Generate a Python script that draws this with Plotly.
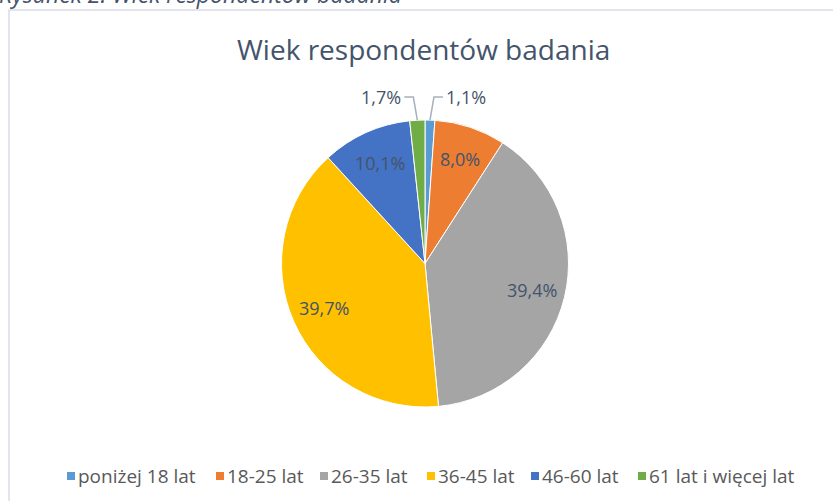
import math
import plotly.graph_objects as go

W, H = 833, 501

categories = ["poniżej 18 lat", "18-25 lat", "26-35 lat", "36-45 lat", "46-60 lat", "61 lat i więcej lat"]
values = [1.1, 8.0, 39.4, 39.7, 10.1, 1.7]
labels = ["1,1%", "8,0%", "39,4%", "39,7%", "10,1%", "1,7%"]
colors = ["#5B9BD5", "#ED7D31", "#A5A5A5", "#FFC000", "#4472C4", "#70AD47"]

title_text = "Wiek respondentów badania"
caption_text = "Rysunek 2. Wiek respondentów badania"

# legend entry left edges (layout, pixels)
legend_x = [67, 216, 320, 427, 531, 638]
legend_y = 476


def px(x):
    return x / W


def py(y):
    return 1 - y / H


# pie geometry (pixels)
cx, cy, R = 425.0, 263.5, 143.5

fig = go.Figure()
fig.add_trace(go.Pie(
    labels=categories,
    values=values,
    sort=False,
    direction="clockwise",
    rotation=0,
    marker=dict(colors=colors, line=dict(color="white", width=1)),
    textinfo="none",
    hoverinfo="label+percent",
    showlegend=False,
    domain=dict(x=[px(cx - R), px(cx + R)], y=[py(cy + R), py(cy - R)]),
))

annotations = []
shapes = []
total = sum(values)
cum = 0.0
label_font = dict(family="Open Sans", size=18, color="#44546A")
for v, lab in zip(values, labels):
    mid = (cum + v / 2) / total * 2 * math.pi
    cum += v
    s, c = math.sin(mid), math.cos(mid)
    if v / total >= 0.03:
        r = 0.77 * R
        annotations.append(dict(
            x=px(cx + r * s), y=py(cy - r * c), xref="paper", yref="paper",
            text=lab, showarrow=False, font=label_font,
            xanchor="center", yanchor="middle"))
    else:
        sign = 1 if s >= 0 else -1
        ex, ey = cx + R * s, cy - R * c
        kx, ky = ex + sign * 4, cy - R * 1.16
        hx = kx + sign * 9
        shapes.append(dict(
            type="path", xref="paper", yref="paper",
            path=f"M{px(ex)},{py(ey)} L{px(kx)},{py(ky)} L{px(hx)},{py(ky)}",
            line=dict(color="#A6B0BE", width=1.5)))
        annotations.append(dict(
            x=px(hx + sign * 1), y=py(ky), xref="paper", yref="paper",
            text=lab, showarrow=False, font=label_font,
            xanchor="left" if sign > 0 else "right", yanchor="middle"))

# legend (swatches + names from the data lists)
for name, col, lx in zip(categories, colors, legend_x):
    shapes.append(dict(
        type="rect", xref="paper", yref="paper",
        x0=px(lx), x1=px(lx + 8), y0=py(legend_y + 4), y1=py(legend_y - 4),
        line=dict(width=0), fillcolor=col))
    annotations.append(dict(
        x=px(lx + 9), y=py(legend_y), xref="paper", yref="paper",
        text=name, showarrow=False,
        font=dict(family="Open Sans", size=19, color="#595959"),
        xanchor="left", yanchor="middle"))

# chart title
annotations.append(dict(
    x=px(423.5), y=py(49), xref="paper", yref="paper",
    text=title_text, showarrow=False,
    font=dict(family="Open Sans", size=28, color="#44546A"),
    xanchor="center", yanchor="middle"))

# document caption (cut at the top of the image)
annotations.append(dict(
    x=px(-3), y=py(12), xref="paper", yref="paper",
    text=caption_text, showarrow=False,
    font=dict(family="Open Sans", size=23, color="#44546A", style="italic"),
    xanchor="left", yanchor="bottom"))

# chart area border
shapes.append(dict(
    type="rect", xref="paper", yref="paper",
    x0=px(9), y0=py(520), x1=px(860), y1=py(10),
    line=dict(color="#D9DEE6", width=1.5), fillcolor="rgba(0,0,0,0)"))

fig.update_layout(
    width=W, height=H,
    margin=dict(l=0, r=0, t=0, b=0),
    paper_bgcolor="white",
    plot_bgcolor="white",
    showlegend=False,
    annotations=annotations,
    shapes=shapes,
)

fig.write_html(
    "out.html",
    config={"displayModeBar": False},
    post_script="document.body.style.margin='0px';",
)
